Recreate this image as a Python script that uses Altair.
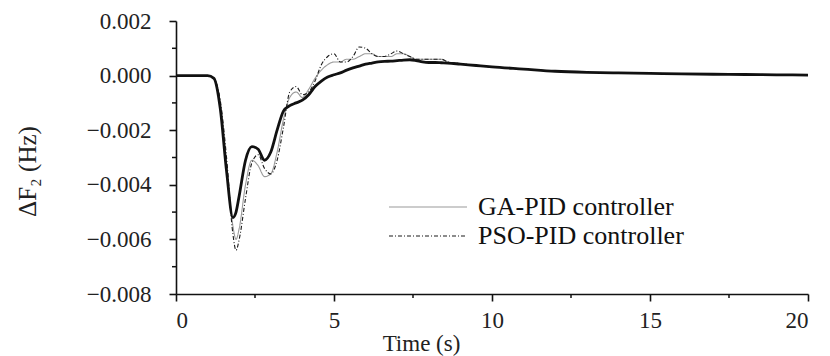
import altair as alt
import pandas as pd

# ---- data ----
time = [0, 1.0, 1.2, 1.4, 1.6, 1.8, 1.9, 2.0,
        2.2, 2.4, 2.6, 2.8, 3.0, 3.2, 3.4, 3.6, 3.8, 4.0,
        4.2, 4.4, 4.6, 4.8, 5.0, 5.2, 5.4, 5.6, 5.8, 6.0,
        6.2, 6.4, 6.6, 6.8, 7.0, 7.2, 7.4, 7.6, 7.8, 8.0,
        8.2, 8.4, 8.6, 9.0, 9.5, 10,
        11, 12, 13, 14, 15, 16, 17, 18, 19, 20]

proposed = [0, 0, -0.0001, -0.0012, -0.0035, -0.0052, -0.0050, -0.0044,
            -0.0031, -0.0026, -0.0027, -0.0031, -0.0028, -0.0020, -0.0013, -0.0011, -0.0010, -0.0009,
            -0.0007, -0.0004, -0.0002, -0.00005, 0.00003, 0.0001, 0.0002, 0.00028, 0.00035, 0.00042,
            0.00046, 0.0005, 0.00052, 0.00053, 0.00055, 0.00057, 0.00058, 0.00055, 0.0005, 0.00048,
            0.00048, 0.00047, 0.00046, 0.00042, 0.00037, 0.00032,
            0.00024, 0.00016, 0.00012, 0.0001, 0.00008, 0.00006, 0.00005, 0.00004, 0.00003, 0.00002]

ga_pid = [0, 0, -0.0001, -0.0010, -0.0032, -0.0055, -0.0060, -0.0056,
          -0.0040, -0.0031, -0.0033, -0.0037, -0.0036, -0.0028, -0.0016, -0.0008, -0.0006, -0.0008,
          -0.0005, -0.0001, 0.0002, 0.0004, 0.0005, 0.0005, 0.0006, 0.0006, 0.0007, 0.0008,
          0.0008, 0.0007, 0.0007, 0.0007, 0.0008, 0.0008, 0.0007, 0.0006, 0.0006, 0.0006,
          0.0006, 0.0006, 0.0005, 0.00044, 0.00037, 0.00032,
          0.00024, 0.00016, 0.00012, 0.0001, 0.00008, 0.00006, 0.00005, 0.00004, 0.00003, 0.00002]

pso_pid = [0, 0, -0.0001, -0.0009, -0.0030, -0.0058, -0.0064, -0.0060,
           -0.0045, -0.0032, -0.0029, -0.0034, -0.0036, -0.0031, -0.0019, -0.0006, -0.0004, -0.0007,
           -0.0006, -0.0002, 0.0004, 0.0007, 0.0008, 0.0005, 0.0005, 0.0007, 0.00105, 0.0010,
           0.0008, 0.0007, 0.0007, 0.0008, 0.0009, 0.0008, 0.0007, 0.0006, 0.0006, 0.0006,
           0.0006, 0.0006, 0.0005, 0.00044, 0.00037, 0.00032,
           0.00024, 0.00016, 0.00012, 0.0001, 0.00008, 0.00006, 0.00005, 0.00004, 0.00003, 0.00002]

series_names = ["GA-PID controller", "PSO-PID controller"]
x_ticks = [0, 5, 10, 15, 20]
x_minor = [2.5, 7.5, 12.5, 17.5]
y_ticks = [-0.008, -0.006, -0.004, -0.002, 0.000, 0.002]
y_minor = [-0.007, -0.005, -0.003, -0.001, 0.001]

W, H = 632, 273
FONT = "Liberation Serif"

cmp_df = pd.DataFrame({
    "t": time * 2,
    "v": ga_pid + pso_pid,
    "s": [series_names[0]] * len(time) + [series_names[1]] * len(time),
})
main_df = pd.DataFrame({"t": time, "v": proposed})

xscale = alt.Scale(domain=[0, 20], nice=False, zero=False)
yscale = alt.Scale(domain=[-0.008, 0.002], nice=False, zero=False)

xenc = alt.X("t:Q", scale=xscale, axis=alt.Axis(
    values=x_ticks, format="d", title="Time (s)", grid=False,
    titleX=245, titleY=49, titleAnchor="start", titleAlign="center", titleBaseline="middle",
))
yenc = alt.Y("v:Q", scale=yscale, axis=alt.Axis(
    values=y_ticks, format=".3f", title="ΔF₂ (Hz)", grid=False, labelPadding=18,
    titleX=-136, titleY=150, titleAlign="center", titleFontSize=25,
))

# wide horizontal line symbol: path in unit coords, scaled by sqrt(symbolSize)/2
leg = dict(title=None, orient="none", legendX=238, legendY=172,
           symbolType="M-3,0H3", symbolSize=676, symbolStrokeWidth=1.2,
           symbolFillColor="transparent",
           labelFont=FONT, labelFontSize=26, labelColor="#111",
           labelOffset=36, rowPadding=2, labelLimit=500)

cmp_lines = alt.Chart(cmp_df).mark_line(interpolate="monotone", strokeWidth=1.1).encode(
    x=xenc, y=yenc,
    color=alt.Color("s:N", scale=alt.Scale(domain=series_names, range=["#9a9a9a", "#1a1a1a"]),
                    legend=alt.Legend(**leg)),
    strokeDash=alt.StrokeDash("s:N", scale=alt.Scale(domain=series_names, range=[[1, 0], [4, 2, 1, 2]]),
                              legend=alt.Legend(**leg)),
)

main_line = alt.Chart(main_df).mark_line(interpolate="monotone", strokeWidth=2.8, color="#111").encode(
    x=alt.X("t:Q", scale=xscale), y=alt.Y("v:Q", scale=yscale)
)

ymin_df = pd.DataFrame({"v": y_minor})
xmin_df = pd.DataFrame({"t": x_minor})
y_minor_ticks = alt.Chart(ymin_df).mark_rule(color="#111", strokeWidth=1.5).encode(
    y=alt.Y("v:Q", scale=yscale), x=alt.value(-4), x2=alt.value(0)
)
x_minor_ticks = alt.Chart(xmin_df).mark_rule(color="#111", strokeWidth=1.5).encode(
    x=alt.X("t:Q", scale=xscale), y=alt.value(H), y2=alt.value(H + 4)
)

chart = alt.layer(cmp_lines, main_line, y_minor_ticks, x_minor_ticks).properties(
    width=W, height=H,
    autosize=alt.AutoSizeParams(type="none"),
    padding={"left": 176, "top": 21, "right": 22, "bottom": 62},
    background="white",
).configure_view(stroke=None).configure_axis(
    domainColor="#111", domainWidth=1.6, tickColor="#111", tickWidth=1.6, tickSize=7,
    labelFont=FONT, labelFontSize=23, labelColor="#222", labelPadding=8,
    titleFont=FONT, titleFontSize=23, titleColor="#222", titleFontWeight="normal",
)

chart.save("out.html", embed_options={"renderer": "svg", "actions": False})
